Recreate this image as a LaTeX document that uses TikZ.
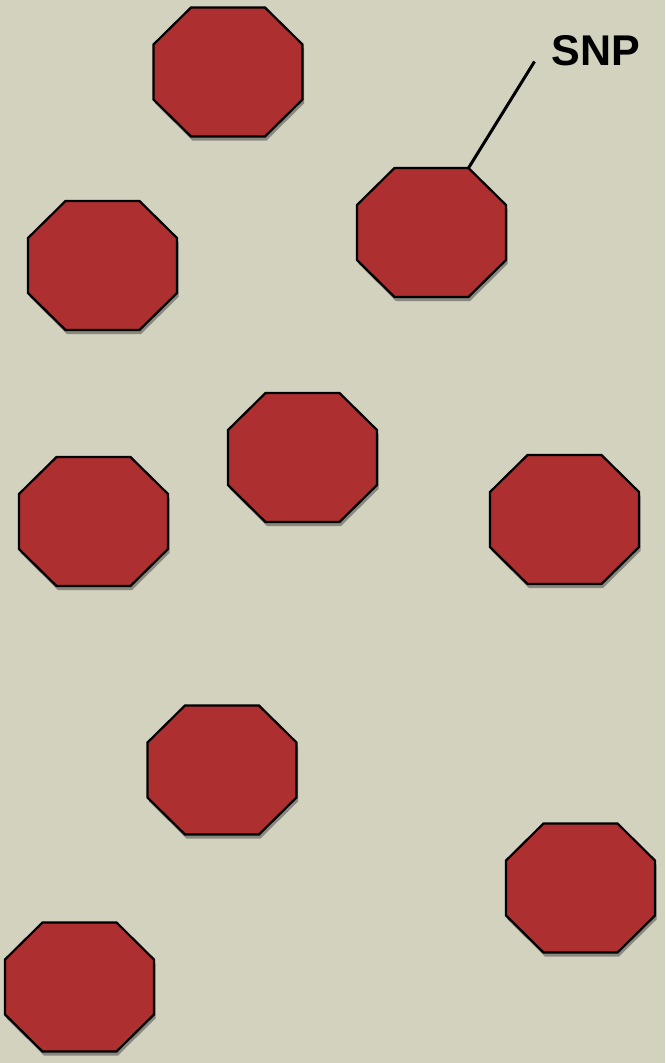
\documentclass[tikz,border=0pt]{standalone}
\usepackage{fontspec}
\setmainfont{Liberation Sans}
\usetikzlibrary{shadows}
\definecolor{bgcol}{RGB}{211,210,191}
\definecolor{octred}{RGB}{174,47,47}
\tikzset{
  oct/.style={fill=octred, draw=black, line width=2.2pt, line join=miter,
    drop shadow={shadow xshift=1.5pt, shadow yshift=-4pt, opacity=0.5, fill=black!75}},
  leader/.style={draw=black, line width=3pt},
  lbl/.style={font=\bfseries\fontsize{43}{43}\selectfont, inner sep=0pt}
}
\newcommand\octagon[3]{%
  \path[oct] (#2-74.5,#3-27.5) -- (#2-37,#3-64.5) -- (#2+37,#3-64.5) -- (#2+74.5,#3-27.5)
    -- (#2+74.5,#3+27.5) -- (#2+37,#3+64.5) -- (#2-37,#3+64.5) -- (#2-74.5,#3+27.5) -- cycle;
  \coordinate (#1-ne) at (#2+37,#3-64.5);}
\begin{document}
\begin{tikzpicture}[x=1pt,y=-1pt]
\fill[bgcol] (0,0) rectangle (665,1063);
\useasboundingbox (0,0) rectangle (665,1063);
\octagon{o1}{228}{72}
\octagon{o2}{431.5}{232.5}
\octagon{o3}{102.5}{265.5}
\octagon{o4}{302.5}{457.5}
\octagon{o5}{93.5}{521.5}
\octagon{o6}{564.5}{519.5}
\octagon{o7}{222}{770}
\octagon{o8}{580.5}{888}
\octagon{o9}{79.5}{987}
\node[lbl] (snp) at (596,50.5) {SNP};
\coordinate (snpend) at (534.5,61.5);
\draw[leader] (o2-ne) -- (snpend);
\end{tikzpicture}
\end{document}
